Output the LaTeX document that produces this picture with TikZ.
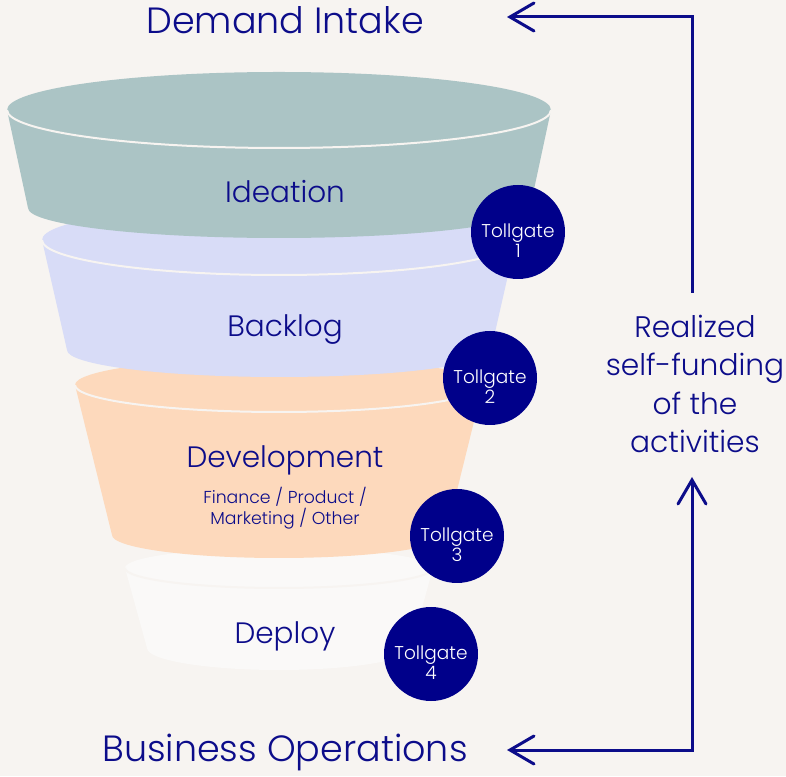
\documentclass[tikz,border=0pt]{standalone}
\usepackage{fontspec}
\setmainfont{Poppins}[UprightFont=* Light]
\usepackage{tikz}
\usetikzlibrary{arrows.meta,positioning}

\definecolor{paper}{HTML}{F7F4F1}
\definecolor{ink}{HTML}{0C0C8A}
\definecolor{gatefill}{HTML}{00008A}
\definecolor{ideafill}{HTML}{ABC4C5}
\definecolor{backfill}{HTML}{D8DCF7}
\definecolor{devfill}{HTML}{FDD9BC}
\definecolor{deployfill}{HTML}{FAF9F8}

\begin{document}
\begin{tikzpicture}[x=1pt,y=1pt,
    rim/.style={draw=paper,line width=2pt},
    stage/.style={text=ink,font=\fontsize{29.5}{36}\selectfont},
    title/.style={text=ink,inner sep=0pt,font=\fontsize{36.5}{44}\selectfont},
    gate/.style={circle,fill=gatefill,minimum size=94pt,inner sep=0pt},
    gatetext/.style={text=white,align=center,yshift=-9pt,font=\fontsize{18.5}{20}\selectfont},
    barb/.tip={Straight Barb[length=24pt,width=28pt,line cap=round]},
    flow/.style={draw=ink,line width=3pt}]
	  % Background
	  \fill[paper] (0,0) rectangle (786,776);
	  \useasboundingbox (0,0) rectangle (786,776);
	  % Draw the funnel from the bottom up
	  \fill[deployfill] (125,208) arc[start angle=180,end angle=0,x radius=154,y radius=20]
	      -- (411,128) arc[start angle=0,end angle=-180,x radius=132,y radius=22] -- cycle;
	  \draw[rim] (125,208) arc[start angle=180,end angle=360,x radius=154,y radius=20];
	  \fill[devfill] (75,391) arc[start angle=180,end angle=0,x radius=204,y radius=27]
	      -- (446,241) arc[start angle=0,end angle=-180,x radius=167,y radius=23] -- cycle;
	  \draw[rim] (75,391) arc[start angle=180,end angle=360,x radius=204,y radius=27];
	  \fill[backfill] (42,536) arc[start angle=180,end angle=0,x radius=237,y radius=35]
	      -- (491,426) arc[start angle=0,end angle=-180,x radius=212,y radius=27] -- cycle;
	  \draw[rim] (42,536) arc[start angle=180,end angle=360,x radius=237,y radius=35];
	  \fill[ideafill] (7,666) arc[start angle=180,end angle=0,x radius=272,y radius=38]
	      -- (530,568) arc[start angle=0,end angle=-180,x radius=251,y radius=30] -- cycle;
	  \draw[rim] (7,666) arc[start angle=180,end angle=360,x radius=272,y radius=38];
	  % Stage labels
	  \node[stage] (ideation) at (285,584) {Ideation};
	  \node[stage] (backlog) at (285,446) {Backlog};
	  \node[stage] (development) at (285,316) {Development};
	  \node[text=ink,align=center,font=\fontsize{17.3}{21}\selectfont] (areas) at (285,268)
	      {Finance / Product /\\Marketing / Other};
	  \node[stage] (deploy) at (285,140) {Deploy};
	  % Tollgates
	  \node[gate,label={[gatetext]center:Tollgate\\1}] (gate1) at (518,544) {};
	  \node[gate,label={[gatetext]center:Tollgate\\2}] (gate2) at (490,398) {};
	  \node[gate,label={[gatetext]center:Tollgate\\3}] (gate3) at (457,240) {};
	  \node[gate,label={[gatetext]center:Tollgate\\4}] (gate4) at (431,122) {};
	  % Titles and the loop on the right
	  \node[title] (intake) at (285,756) {Demand Intake};
	  \node[title] (operations) at (285,23.5) {Business Operations};
	  \node[stage,align=center,font=\fontsize{29.7}{38.5}\selectfont] (funding) at (695,392)
	      {Realized\\self-funding\\of the\\activities};
	  \coordinate (looptop) at (692,483);
	  \coordinate (intakeend) at (507,759);
	  \coordinate (loopbottom) at (692,299);
	  \coordinate (operationsend) at (507,26);
	  \draw[flow,-barb] (looptop) |- (intakeend);
	  \draw[flow,barb-barb] (loopbottom) |- (operationsend);
\end{tikzpicture}
\end{document}
